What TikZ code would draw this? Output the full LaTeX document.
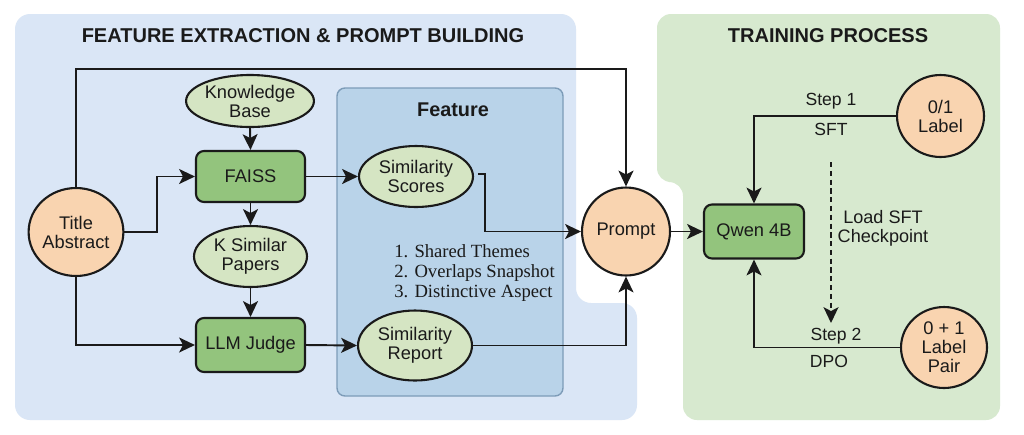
\documentclass[tikz,border=0pt]{standalone}
\usepackage{fontspec}
\setmainfont{Liberation Sans}
\newfontfamily\listserif{Liberation Serif}
\usetikzlibrary{arrows.meta,shapes.geometric}
\definecolor{bluebg}{HTML}{DAE6F6}
\definecolor{featfill}{HTML}{B9D3E9}
\definecolor{featline}{HTML}{7D9CB8}
\definecolor{greenbg}{HTML}{D7E9CF}
\definecolor{orangefill}{HTML}{F9D4B0}
\definecolor{lgreen}{HTML}{D5E5C3}
\definecolor{dgreen}{HTML}{93C47D}
\definecolor{ink}{HTML}{1A1A1A}
\tikzset{
  nodefont/.style={font=\fontsize{10.4}{10.8}\selectfont, align=center, text=ink},
  orangeell/.style={ellipse, draw=ink, line width=1.2pt, fill=orangefill, inner sep=0pt, nodefont},
  greenell/.style={ellipse, draw=ink, line width=1.2pt, fill=lgreen, inner sep=0pt, nodefont},
  greenbox/.style={rectangle, rounded corners=0.16cm, draw=ink, line width=1.2pt, fill=dgreen, inner sep=0pt, nodefont},
  arr/.style={draw=ink, line width=1.1pt, -{Stealth[length=9pt,width=8.5pt,inset=2.2pt]}},
  sectitle/.style={font=\fontsize{11.4}{13}\selectfont\bfseries, text=ink},
  lbl/.style={font=\fontsize{10}{11}\selectfont, text=ink, inner sep=0pt}
}
\begin{document}
\begin{tikzpicture}[x=0.02cm,y=-0.02cm]
\useasboundingbox (0,0) rectangle (1024,434);
\fill[white] (0,0) rectangle (1024,434);
% backgrounds
\fill[bluebg, rounded corners=0.3cm] (15,14) -- (576,14) -- (576,303) -- (637,303) -- (637,420) -- (15,420) -- cycle;
\fill[greenbg, rounded corners=0.28cm] (657,14) -- (1000,14) -- (1000,420) -- (683,420) -- (683,182) -- (657,182) -- cycle;
\draw[fill=featfill, draw=featline, line width=0.8pt, rounded corners=0.16cm] (337,88) rectangle (563,396);

% titles
\node[sectitle] (t1) at (303,36) {FEATURE EXTRACTION \& PROMPT BUILDING};
\node[sectitle] (t2) at (828,36) {TRAINING PROCESS};
\node[font=\fontsize{11.3}{13}\selectfont\bfseries, text=ink] (tf) at (453,110) {Feature};

% nodes
\node[orangeell, minimum width=1.88cm, minimum height=1.76cm] (ta) at (76,232) {Title\\Abstract};
\node[greenell, minimum width=2.2cm, minimum height=1.04cm] (kb) at (250,101) {Knowledge\\Base};
\node[greenbox, minimum width=2.18cm, minimum height=1.02cm] (faiss) at (250.5,176.5) {FAISS};
\node[greenell, minimum width=2.26cm, minimum height=1.22cm] (ksim) at (250.5,256.5) {K Similar\\Papers};
\node[greenbox, minimum width=2.18cm, minimum height=1.08cm] (llm) at (250.5,345) {LLM Judge};
\node[greenell, minimum width=2.28cm, minimum height=1.22cm] (scores) at (416,176.5) {Similarity\\Scores};
\node[greenell, minimum width=2.28cm, minimum height=1.4cm] (report) at (415,345.5) {Similarity\\Report};
\node[font=\listserif\fontsize{10.6}{11.4}\selectfont, align=left, anchor=west, inner sep=0pt, text=ink] (list) at (394,273)
  {1. Shared Themes\\2. Overlaps Snapshot\\3. Distinctive Aspect};
\node[orangeell, circle, minimum size=1.76cm] (prompt) at (626,231.5) {Prompt};
\node[greenbox, minimum width=2.0cm, minimum height=1.08cm] (qwen) at (754,231.5) {Qwen 4B};
\node[orangeell, minimum width=1.74cm, minimum height=1.64cm] (l01) at (940.5,116) {0/1\\Label};
\node[orangeell, minimum width=1.72cm, minimum height=1.62cm] (lpair) at (944,347.5) {0 + 1\\Label\\Pair};

% labels
\node[lbl] (st1) at (831,101) {Step 1};
\node[lbl] (sft) at (831,129) {SFT};
\node[lbl] (st2) at (836,336) {Step 2};
\node[lbl] (dpo) at (829,361) {DPO};
\node[lbl, align=center, font=\fontsize{10.3}{10.8}\selectfont] (load) at (883,228) {Load SFT\\Checkpoint};

% helper coordinates
\coordinate (ytop) at (0,69);
\coordinate (xa) at (157,0);
\coordinate (s1) at (478,174);
\coordinate (s2) at (485,174);
\coordinate (d1) at (831,162);
\coordinate (d2) at (831,323);

% connectors
\draw[arr] (ta.north) -- (ta.north |- ytop) -| (prompt.north);
\draw[arr] (ta.east) -- (xa |- ta.east) |- (faiss.west);
\draw[arr] (ta.south) |- (llm.west);
\draw[arr] (kb.south) -- (faiss.north);
\draw[arr] (faiss.south) -- (ksim.north);
\draw[arr] (ksim.south) -- (llm.north);
\draw[arr] (faiss.east) -- (scores.west);
\draw[arr] (llm.east) -- (report.west);
\draw[arr] (s1) -- (s2) |- (prompt.west);
\draw[arr] (report.east) -| (prompt.south);
\draw[arr] (prompt.east) -- (qwen.west);
\draw[arr] (l01.west) -| (qwen.north);
\draw[arr] (lpair.west) -| (qwen.south);
\draw[arr, dash pattern=on 3pt off 2pt] (d1) -- (d2);
\end{tikzpicture}
\end{document}
